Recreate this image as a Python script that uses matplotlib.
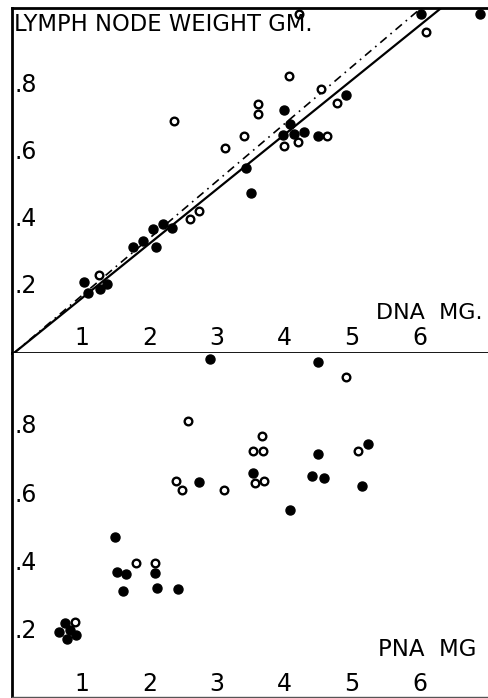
"""Poids des ganglions lymphatiques en fonction de l'ADN et du PNA (deux panneaux)."""

import matplotlib

matplotlib.use("Agg")
import matplotlib.pyplot as plt  # noqa: E402

# --------------------------------------------------------------------------- #
# Données
# --------------------------------------------------------------------------- #
dna_filled_x = [1.03, 1.10, 1.27, 1.38, 1.76, 1.91, 2.05, 2.10, 2.21, 2.34,
                3.43, 3.50, 3.99, 4.08, 3.98, 4.14, 4.29, 4.50, 4.91, 6.02, 6.89]
dna_filled_y = [0.212, 0.180, 0.190, 0.205, 0.317, 0.334, 0.371, 0.317, 0.384, 0.374,
                0.553, 0.477, 0.724, 0.685, 0.652, 0.655, 0.661, 0.648, 0.769, 1.013, 1.013]

dna_open_x = [1.26, 2.60, 2.74, 2.36, 3.12, 3.40, 3.61, 3.61, 4.07, 4.54,
              4.78, 4.00, 4.20, 4.63, 4.22, 6.10]
dna_open_y = [0.232, 0.401, 0.424, 0.694, 0.613, 0.648, 0.743, 0.713, 0.827, 0.787,
              0.747, 0.618, 0.630, 0.648, 1.013, 0.958]

pna_filled_x = [0.76, 0.67, 0.83, 0.92, 0.78, 1.50, 1.53, 1.66, 1.61, 2.08, 2.11,
                2.42, 2.74, 2.90, 3.54, 4.08, 4.41, 4.59, 4.50, 4.49, 5.14, 5.24]
pna_filled_y = [0.224, 0.198, 0.205, 0.190, 0.177, 0.476, 0.375, 0.368, 0.319, 0.370, 0.327,
                0.324, 0.636, 0.997, 0.663, 0.554, 0.653, 0.648, 0.719, 0.987, 0.624, 0.749]

pna_open_x = [0.90, 1.80, 2.09, 2.39, 2.49, 2.58, 3.10, 3.53, 3.56, 3.67, 3.68,
              3.70, 4.91, 5.09]
pna_open_y = [0.226, 0.400, 0.401, 0.641, 0.612, 0.816, 0.614, 0.728, 0.634, 0.772, 0.726,
              0.640, 0.945, 0.726]

# droites d'ajustement passant par l'origine (pentes lues)
slope_solid = 0.163
slope_dashed = 0.171

x_ticks = [1, 2, 3, 4, 5, 6]
x_tick_labels = ["1", "2", "3", "4", "5", "6"]
y_ticks = [0.2, 0.4, 0.6, 0.8]
y_tick_labels = [".2", ".4", ".6", ".8"]

# --------------------------------------------------------------------------- #
# Figure
# --------------------------------------------------------------------------- #
plt.rcParams["font.family"] = ["DejaVu Sans"]
fig = plt.figure(figsize=(4.88, 6.98), dpi=100)
ax_top = fig.add_axes([0.0246, 0.4943, 0.9754, 0.4943])
ax_bot = fig.add_axes([0.0246, 0.0014, 0.9754, 0.4929])

for ax in (ax_top, ax_bot):
    ax.set_xlim(-0.03, 7.01)
    ax.set_xticks([])
    ax.set_yticks([])
    ax.spines["right"].set_visible(False)
    ax.spines["left"].set_linewidth(2.0)
    for i, lab in zip(x_ticks, x_tick_labels):
        ax.text(i, 0.045, lab, ha="center", va="center", fontsize=17)
    for v, lab in zip(y_ticks, y_tick_labels):
        ax.text(0.0, v, lab, ha="left", va="center", fontsize=17)

ax_top.set_ylim(0, 1.03)
ax_top.spines["top"].set_linewidth(2.0)
ax_top.spines["bottom"].set_linewidth(2.0)
ax_bot.set_ylim(0.008, 1.014)
ax_bot.spines["top"].set_visible(False)
ax_bot.spines["bottom"].set_linewidth(1.0)
ax_bot.spines["bottom"].set_color("#555555")

# panneau ADN
xs = [0, 7]
ax_top.plot(xs, [slope_solid * x for x in xs], color="black", lw=1.6)
ax_top.plot(xs, [slope_dashed * x for x in xs], color="black", lw=1.2,
            linestyle=(0, (5, 3, 1, 3)))
ax_top.plot(dna_filled_x, dna_filled_y, "o", color="black", ms=6.5, clip_on=False)
ax_top.plot(dna_open_x, dna_open_y, "o", mfc="white", mec="black", mew=1.7, ms=5.5,
            clip_on=False)
ax_top.text(0.0, 0.982, "LYMPH NODE WEIGHT GM.", ha="left", va="center", fontsize=16.3)
ax_top.text(5.36, 0.12, "DNA  MG.", ha="left", va="center", fontsize=16)

# panneau PNA
ax_bot.plot(pna_filled_x, pna_filled_y, "o", color="black", ms=6.5, clip_on=False)
ax_bot.plot(pna_open_x, pna_open_y, "o", mfc="white", mec="black", mew=1.7, ms=5.5,
            clip_on=False)
ax_bot.text(5.39, 0.146, "PNA  MG", ha="left", va="center", fontsize=16.5)

fig.savefig("out.png", dpi=100)
plt.close(fig)
